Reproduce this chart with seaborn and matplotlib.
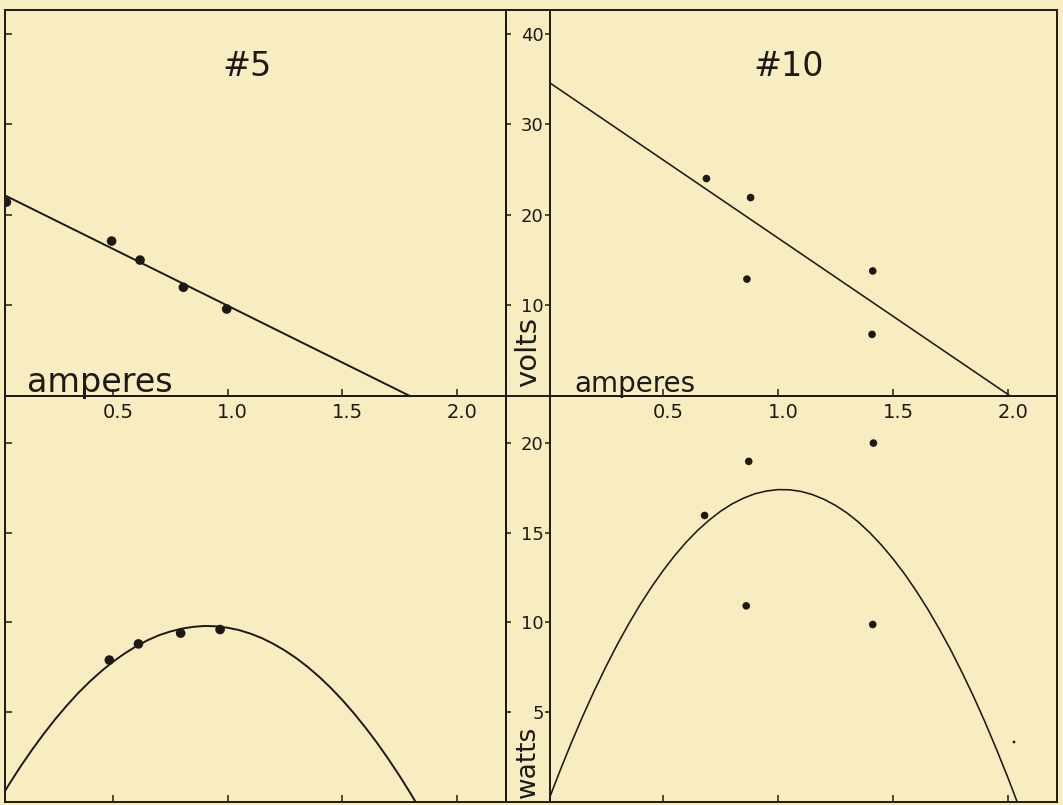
import matplotlib
matplotlib.use("Agg")
import matplotlib.pyplot as plt
import matplotlib.transforms as mtransforms
from matplotlib.lines import Line2D
import seaborn as sns

# ---------------- data ----------------
# #5 : volts vs amperes
amps5_v = [0.035, 0.494, 0.618, 0.807, 0.996]
volts5 = [21.4, 17.1, 15.0, 12.0, 9.6]
line5_amps = [0.0, 1.795]
line5_volts = [22.5, 0.0]
# #5 : watts vs amperes
amps5_w = [0.484, 0.611, 0.795, 0.967]
watts5 = [7.9, 8.8, 9.4, 9.6]
curve5_amps = [0.00, 0.05, 0.10, 0.15, 0.20, 0.25, 0.30, 0.35, 0.40, 0.45,
               0.50, 0.55, 0.60, 0.65, 0.70, 0.75, 0.80, 0.85, 0.90, 0.95,
               1.00, 1.05, 1.10, 1.15, 1.20, 1.25, 1.30, 1.35, 1.40, 1.45,
               1.50, 1.55, 1.60, 1.65, 1.70, 1.75, 1.80, 1.82, 1.83]
curve5_watts = [0.00, 1.05, 2.04, 2.96, 3.83, 4.64, 5.39, 6.09, 6.72, 7.29,
                7.81, 8.26, 8.66, 9.00, 9.28, 9.49, 9.65, 9.75, 9.80, 9.78,
                9.70, 9.57, 9.37, 9.12, 8.80, 8.43, 8.00, 7.51, 6.96, 6.35,
                5.68, 4.95, 4.16, 3.32, 2.41, 1.45, 0.43, 0.00, -0.10]

# #10 : volts vs amperes
amps10_v = [0.689, 0.881, 0.865, 1.412, 1.409]
volts10 = [24.0, 21.9, 12.9, 13.8, 6.8]
line10_amps = [0.0, 2.01]
line10_volts = [34.7, 0.0]
# #10 : watts vs amperes
amps10_w = [0.681, 0.873, 0.862, 1.415, 1.412]
watts10 = [15.95, 18.96, 10.92, 19.98, 9.88]
speck_amps = [2.026]
speck_watts = [3.34]
curve10_amps = [0.00, 0.05, 0.10, 0.15, 0.20, 0.25, 0.30, 0.35, 0.40, 0.45,
                0.50, 0.55, 0.60, 0.65, 0.70, 0.75, 0.80, 0.85, 0.90, 0.95,
                1.00, 1.05, 1.10, 1.15, 1.20, 1.25, 1.30, 1.35, 1.40, 1.45,
                1.50, 1.55, 1.60, 1.65, 1.70, 1.75, 1.80, 1.85, 1.90, 1.95,
                2.00, 2.04, 2.05]
curve10_watts = [0.00, 1.66, 3.24, 4.74, 6.15, 7.48, 8.73, 9.89, 10.97, 11.96,
                 12.87, 13.70, 14.45, 15.11, 15.68, 16.18, 16.59, 16.91, 17.16, 17.31,
                 17.39, 17.38, 17.29, 17.11, 16.85, 16.51, 16.09, 15.58, 14.98, 14.30,
                 13.54, 12.70, 11.77, 10.76, 9.66, 8.49, 7.22, 5.88, 4.45, 2.93,
                 1.34, 0.00, -0.10]

amp_ticks = [0.5, 1.0, 1.5, 2.0]
amp_ticklabels = ["0.5", "1.0", "1.5", "2.0"]
volt_ticks = [10, 20, 30, 40]
volt_ticklabels = ["10", "20", "30", "40"]
watt_ticks = [5, 10, 15, 20]
watt_ticklabels = ["5", "10", "15", "20"]

# ---------------- style ----------------
BG = "#F8ECC1"
INK = "#1d1a16"
sns.set_style("white", rc={"axes.facecolor": BG, "figure.facecolor": BG,
                           "axes.edgecolor": INK})
plt.rcParams["font.family"] = ["DejaVu Sans"]

W, H = 1063, 805
fig = plt.figure(figsize=(W / 100, H / 100), dpi=100)
fig.patch.set_facecolor(BG)


def rect(x0, y0, x1, y1):
    return [x0 / W, 1 - y1 / H, (x1 - x0) / W, (y1 - y0) / H]


ax_tl = fig.add_axes(rect(5, 10, 506, 396))
ax_tr = fig.add_axes(rect(550, 10, 1057, 396))
ax_bl = fig.add_axes(rect(5, 396, 506, 802))
ax_br = fig.add_axes(rect(550, 396, 1057, 802))
# top panels carry the ampere labels that hang below their axis line
ax_tl.set_zorder(5)
ax_tr.set_zorder(5)

SPINE_LW = 1.4
for ax in (ax_tl, ax_tr, ax_bl, ax_br):
    ax.set_facecolor(BG)
    for s in ax.spines.values():
        s.set_color(INK)
        s.set_linewidth(SPINE_LW)

# ---------------- marks ----------------
sns.lineplot(x=line5_amps, y=line5_volts, ax=ax_tl, color=INK, lw=1.4,
             estimator=None, sort=False)
sns.scatterplot(x=amps5_v, y=volts5, ax=ax_tl, color=INK, s=48,
                edgecolor="none", linewidth=0)
sns.lineplot(x=curve5_amps, y=curve5_watts, ax=ax_bl, color=INK, lw=1.4,
             estimator=None, sort=False)
sns.scatterplot(x=amps5_w, y=watts5, ax=ax_bl, color=INK, s=48,
                edgecolor="none", linewidth=0)

sns.lineplot(x=line10_amps, y=line10_volts, ax=ax_tr, color=INK, lw=1.15,
             estimator=None, sort=False)
sns.scatterplot(x=amps10_v, y=volts10, ax=ax_tr, color=INK, s=30,
                edgecolor="none", linewidth=0)
sns.lineplot(x=curve10_amps, y=curve10_watts, ax=ax_br, color=INK, lw=1.15,
             estimator=None, sort=False)
sns.scatterplot(x=amps10_w, y=watts10, ax=ax_br, color=INK, s=30,
                edgecolor="none", linewidth=0)
sns.scatterplot(x=speck_amps, y=speck_watts, ax=ax_br, color=INK, s=4,
                edgecolor="none", linewidth=0)

# ---------------- scales ----------------
ax_tl.set_xlim(0.029, 2.214)
ax_bl.set_xlim(0.029, 2.214)
ax_tr.set_xlim(0.009, 2.213)
ax_br.set_xlim(0.009, 2.213)
ax_tl.set_ylim(0, 42.6)
ax_tr.set_ylim(0, 42.6)
ax_bl.set_ylim(0, 22.6)
ax_br.set_ylim(0, 22.6)

for ax in (ax_tl, ax_tr, ax_bl, ax_br):
    ax.set_xlabel("")
    ax.set_ylabel("")
    ax.set_xticks(amp_ticks)

# x ticks: pointing up from the axis line
for ax in (ax_tl, ax_tr):
    ax.set_xticklabels(amp_ticklabels)
    ax.tick_params(axis="x", direction="in", length=5, width=1.1, color=INK,
                   labelsize=14, labelcolor=INK, pad=5, bottom=True, top=False)
for ax in (ax_bl, ax_br):
    ax.tick_params(axis="x", direction="in", length=5, width=1.1, color=INK,
                   labelbottom=False, bottom=True, top=False)

# left panels: inward ticks on the left edge, no labels (cut off)
ax_tl.set_yticks(volt_ticks)
ax_bl.set_yticks(watt_ticks)
for ax, ticks in ((ax_tl, volt_ticks), (ax_bl, watt_ticks)):
    ax.tick_params(axis="y", direction="in", length=5, width=1.1, color=INK,
                   labelleft=False, left=True, right=False)
    sec = ax.secondary_yaxis("right")
    sec.set_yticks(ticks)
    sec.tick_params(axis="y", direction="out", length=3.5, width=1.1,
                    color=INK, labelright=False)
    sec.spines["right"].set_linewidth(SPINE_LW)
    sec.spines["right"].set_color(INK)

# right panels: labelled ticks in the gap
ax_tr.set_yticks(volt_ticks)
ax_tr.set_yticklabels(volt_ticklabels)
ax_br.set_yticks(watt_ticks)
ax_br.set_yticklabels(watt_ticklabels)
for ax in (ax_tr, ax_br):
    ax.tick_params(axis="y", direction="out", length=3.5, width=1.1,
                   color=INK, labelsize=13, labelcolor=INK, pad=1,
                   left=True, right=False)

# hand-lettered labels sit a little right of their ticks
shift = mtransforms.ScaledTranslation(0.05, 0, fig.dpi_scale_trans)
for ax in (ax_tl, ax_tr):
    for lab in ax.get_xticklabels():
        lab.set_transform(lab.get_transform() + shift)

# ---------------- frame lines across the gap ----------------
for yy in (10, 396, 802):
    fig.add_artist(Line2D([506 / W, 550 / W], [1 - yy / H, 1 - yy / H],
                          transform=fig.transFigure, color=INK,
                          lw=SPINE_LW))


# ---------------- texts ----------------
def fx(x):
    return x / W


def fy(y):
    return 1 - y / H


fig.text(fx(247), fy(66), "#5", ha="center", va="center", fontsize=24,
         color=INK, zorder=10)
fig.text(fx(789), fy(67), "#10", ha="center", va="center", fontsize=24,
         color=INK, zorder=10)
fig.text(fx(27), fy(392), "amperes", ha="left", va="baseline", fontsize=24,
         color=INK, zorder=10)
fig.text(fx(574), fy(392), "amperes", ha="left", va="baseline", fontsize=20,
         color=INK, zorder=10)
fig.text(fx(528), fy(352), "volts", ha="center", va="center", rotation=90,
         fontsize=21, color=INK, zorder=10)
fig.text(fx(528), fy(762), "watts", ha="center", va="center", rotation=90,
         fontsize=19, color=INK, zorder=10)

fig.savefig("out.png", dpi=100, facecolor=BG)
